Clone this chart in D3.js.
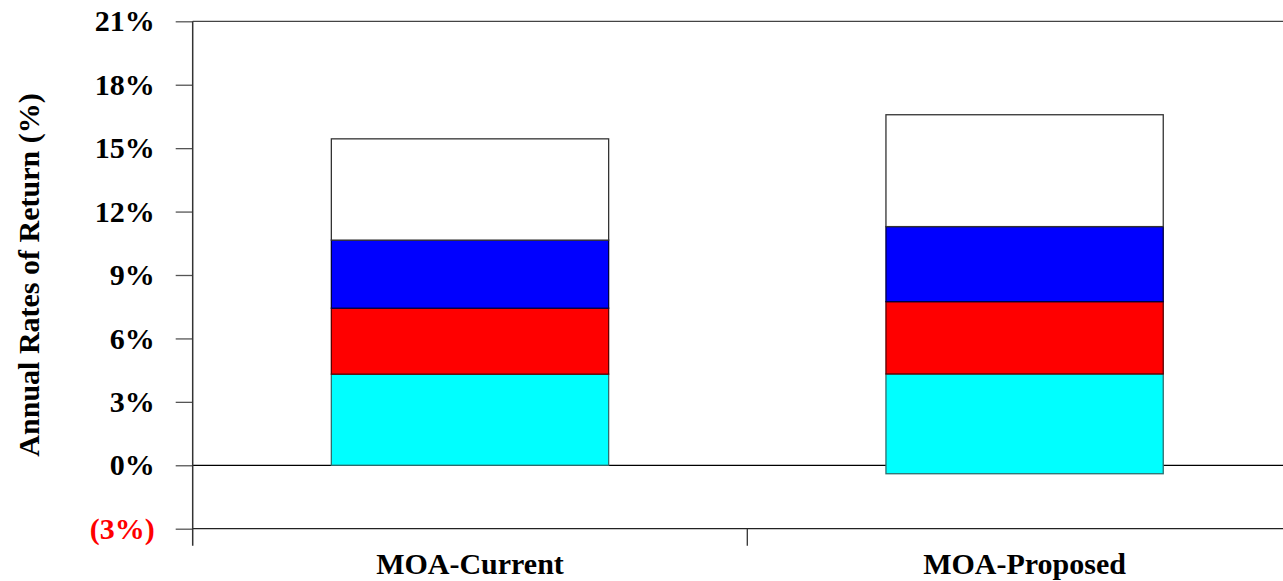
<!DOCTYPE html>
<html>
<head>
<meta charset="utf-8">
<script src="https://cdn.jsdelivr.net/npm/d3@7"></script>
<style>
  html, body { margin: 0; padding: 0; background: #fff; overflow: hidden; }
  text { font-family: "Liberation Serif", "Times New Roman", serif; font-weight: bold; }
</style>
</head>
<body>
<svg id="chart" width="1283" height="581"></svg>
<script>
// ---- data ----
const categories = ["MOA-Current", "MOA-Proposed"];
const baseOffset = [0, -0.40];          // where the stack starts
const cyanValues = [4.31, 4.72];
const redValues = [3.12, 3.42];
const blueValues = [3.22, 3.55];
const whiteValues = [4.79, 5.29];
const yTickValues = [-3, 0, 3, 6, 9, 12, 15, 18, 21];
const yTitle = "Annual Rates of Return (%)";

const seriesList = [
  { values: cyanValues, fill: "#00ffff", stroke: "#2f6f6f" },
  { values: redValues, fill: "#ff0000", stroke: "#5a0000" },
  { values: blueValues, fill: "#0000ff", stroke: "#000040" },
  { values: whiteValues, fill: "#ffffff", stroke: "#333333" }
];

// ---- layout ----
const svg = d3.select("#chart");
const plotLeft = 192.7, plotTop = 21.3, plotBottom = 528.7;
const step = 554.6;
const plotRight = plotLeft + step * categories.length;

const y = d3.scaleLinear().domain([-3, 21]).range([plotBottom, plotTop]);
const x = d3.scaleBand().domain(categories)
  .range([plotLeft, plotRight]).paddingInner(0.5).paddingOuter(0.25);

// plot border lines (top and bottom)
svg.append("line").attr("x1", plotLeft).attr("x2", plotRight + 5)
  .attr("y1", y(21)).attr("y2", y(21)).attr("stroke", "#444").attr("stroke-width", 1.3);
svg.append("line").attr("x1", plotLeft).attr("x2", plotRight + 5)
  .attr("y1", y(-3)).attr("y2", y(-3)).attr("stroke", "#222").attr("stroke-width", 1.3);

// zero line
svg.append("line").attr("x1", plotLeft).attr("x2", plotRight + 5)
  .attr("y1", y(0)).attr("y2", y(0)).attr("stroke", "#000").attr("stroke-width", 1.2);

// stacked bars
categories.forEach((cat, i) => {
  let bottom = baseOffset[i];
  seriesList.forEach(s => {
    const top = bottom + s.values[i];
    svg.append("rect")
      .attr("x", x(cat))
      .attr("width", x.bandwidth())
      .attr("y", y(top))
      .attr("height", y(bottom) - y(top))
      .attr("fill", s.fill)
      .attr("stroke", s.stroke)
      .attr("stroke-width", 1.3);
    bottom = top;
  });
});

// y axis
const yAxis = d3.axisLeft(y).tickValues(yTickValues).tickSize(17).tickPadding(21)
  .tickFormat(d => d < 0 ? "(" + Math.abs(d) + "%)" : d + "%");
const gy = svg.append("g").attr("transform", `translate(${plotLeft},0)`).call(yAxis);
gy.select(".domain").remove();
gy.selectAll(".tick line").attr("stroke", "#555").attr("stroke-width", 1.3);
gy.selectAll(".tick text")
  .attr("font-size", 30)
  .attr("fill", d => d < 0 ? "#ff0000" : "#000")
  .attr("font-family", "Liberation Serif")
  .attr("font-weight", "bold");
svg.append("line").attr("x1", plotLeft).attr("x2", plotLeft)
  .attr("y1", plotTop).attr("y2", plotBottom + 17)
  .attr("stroke", "#333").attr("stroke-width", 1.5);

// x axis category ticks (boundaries)
const boundaries = d3.range(categories.length + 1).map(k => plotLeft + k * step);
svg.selectAll(".xtick").data(boundaries.slice(1)).enter().append("line")
  .attr("x1", d => d).attr("x2", d => d)
  .attr("y1", plotBottom).attr("y2", plotBottom + 17)
  .attr("stroke", "#333").attr("stroke-width", 1.3);

// category labels
svg.selectAll(".xlabel").data(categories).enter().append("text")
  .attr("x", d => x(d) + x.bandwidth() / 2)
  .attr("y", 574)
  .attr("text-anchor", "middle")
  .attr("font-size", 30)
  .attr("fill", "#000")
  .text(d => d);

// y title
svg.append("text")
  .attr("transform", `translate(39,${(plotTop + plotBottom) / 2}) rotate(-90)`)
  .attr("text-anchor", "middle")
  .attr("font-size", 30)
  .attr("fill", "#000")
  .text(yTitle);
</script>
</body>
</html>
